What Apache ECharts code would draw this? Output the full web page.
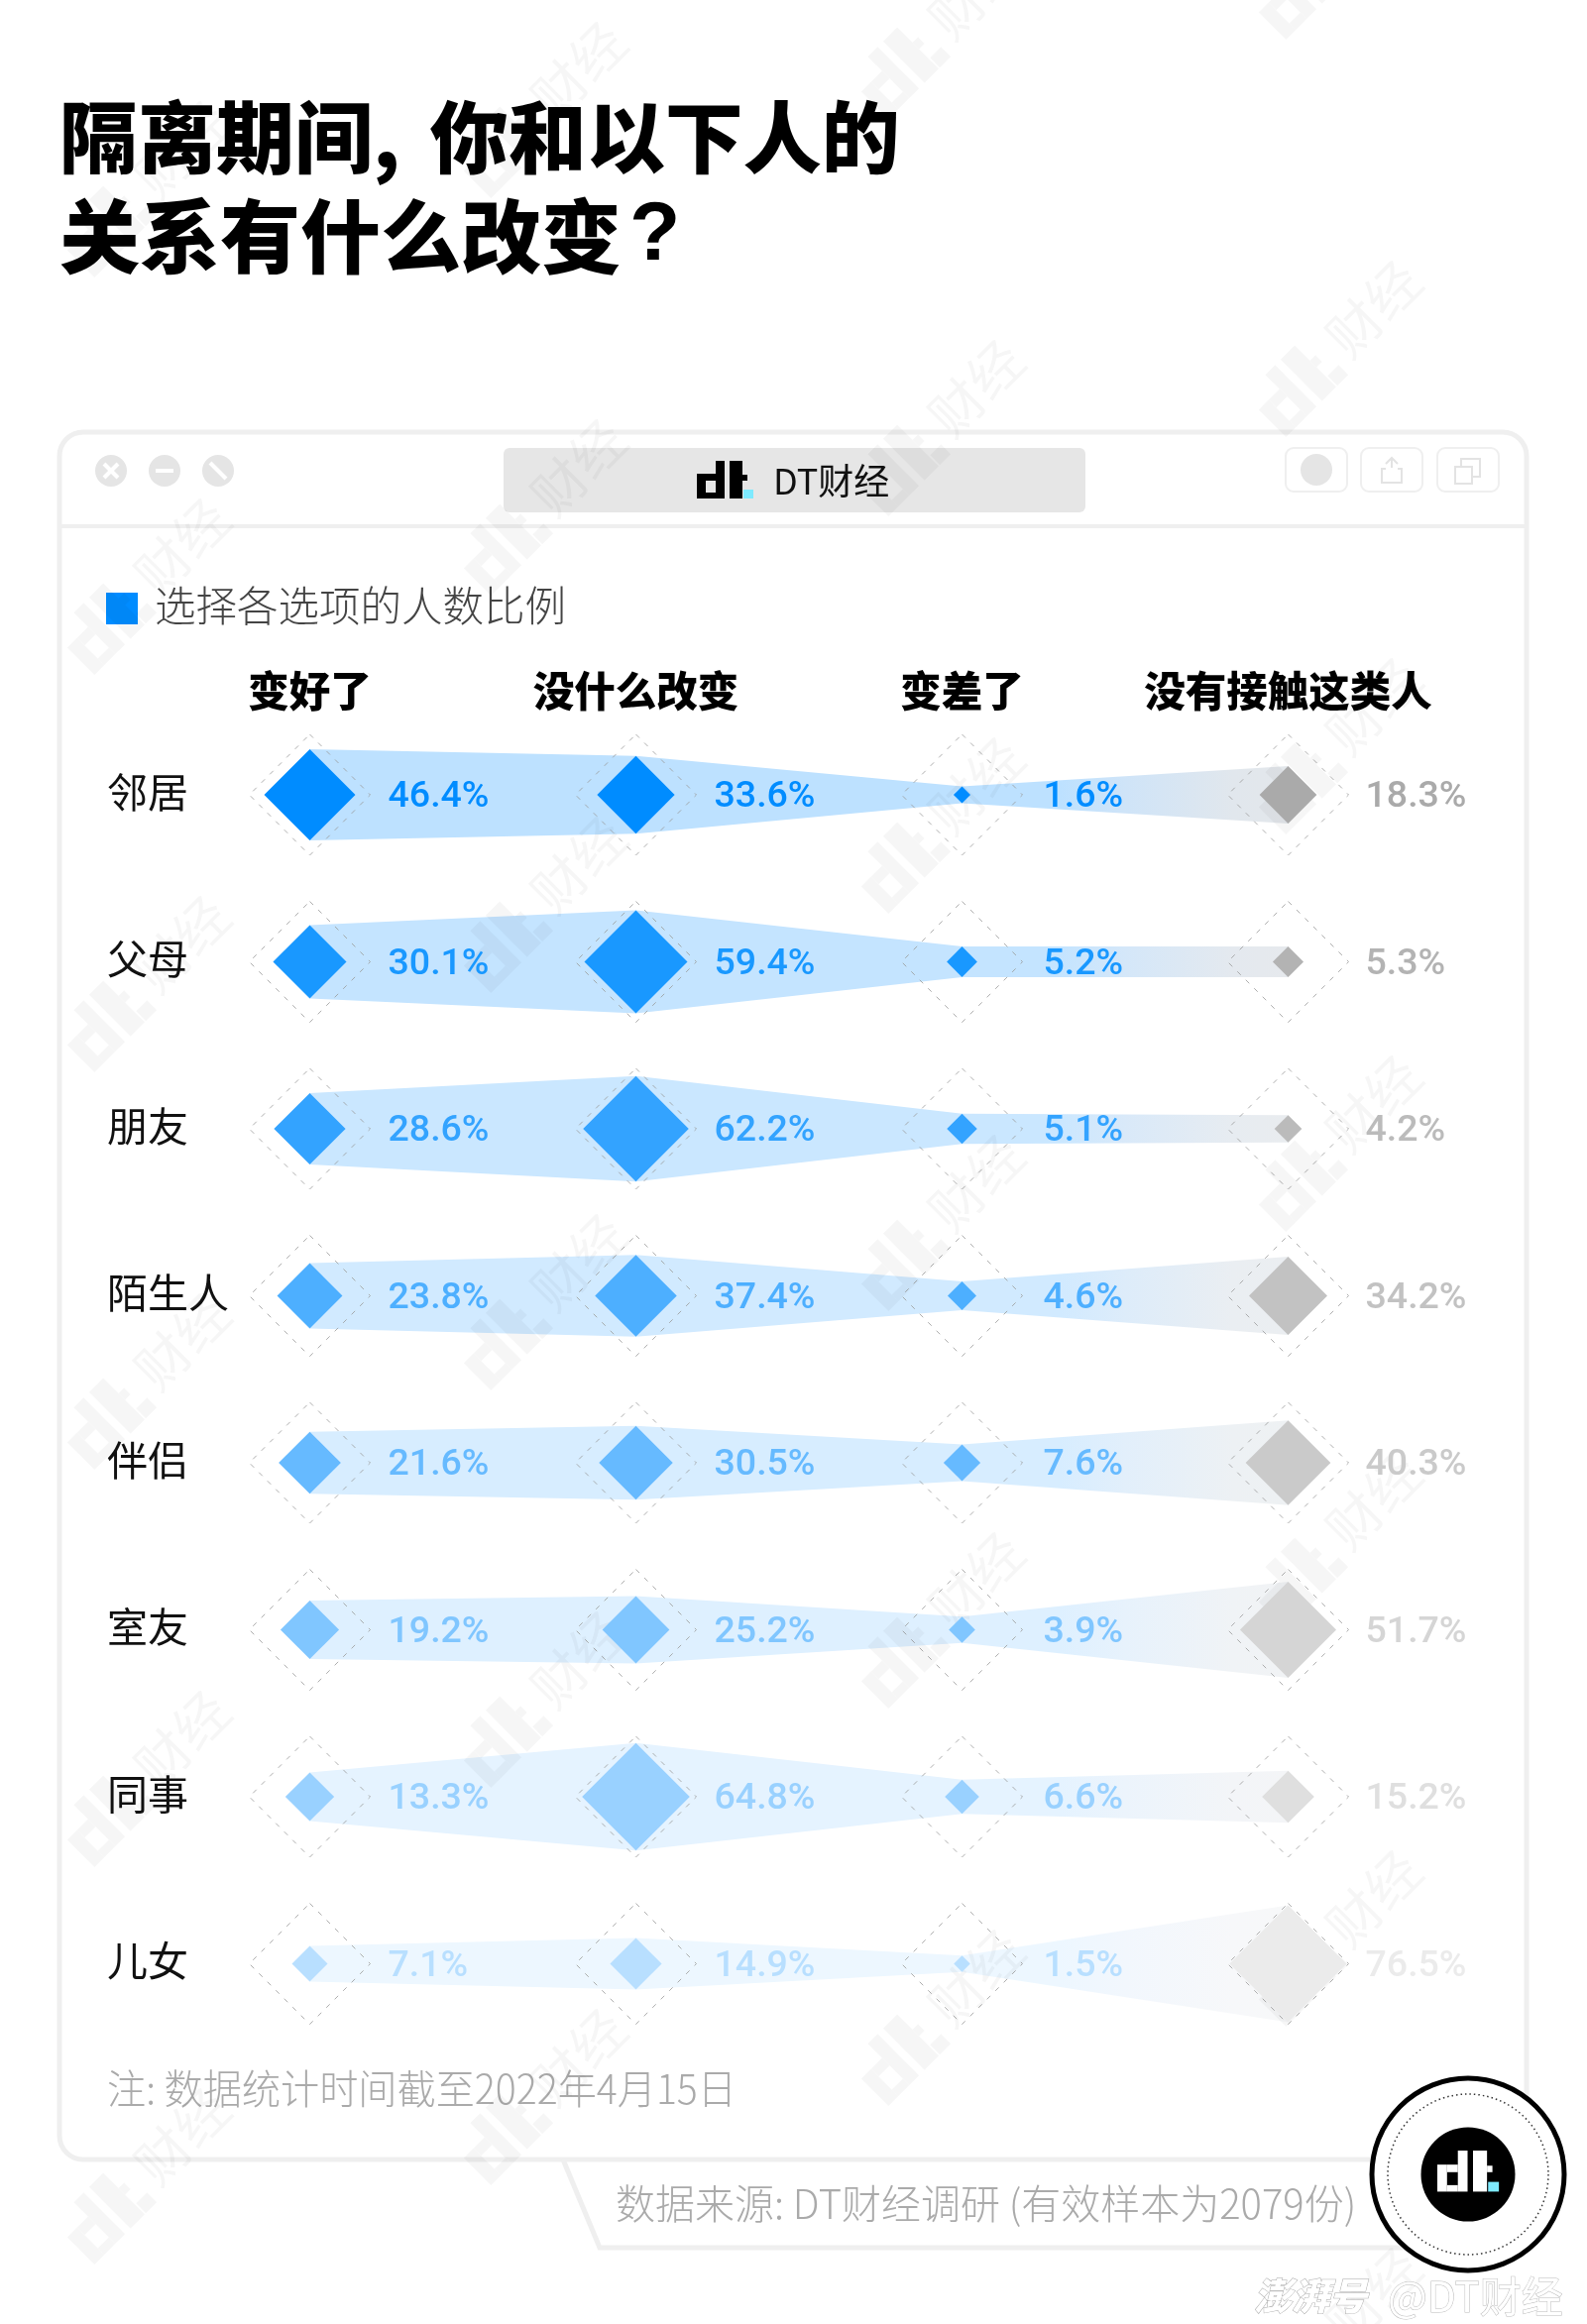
<!DOCTYPE html>
<html>
<head>
<meta charset="utf-8">
<style>html,body{margin:0;padding:0;background:#fff}#c{width:1601px;height:2345px}</style>
<script src="https://cdn.jsdelivr.net/npm/echarts@6/dist/echarts.min.js"></script>
</head>
<body>
<div id="c"></div>
<script>
var titleText = '{a|隔离期间, }{c|你和以下人的}\n{b|关系有什么改变}{q|?}';
var legendText = '选择各选项的人数比例';
var noteText = '注: 数据统计时间截至2022年4月15日';
var sourceText = '数据来源: DT财经调研 (有效样本为2079份)';
var brandText = 'DT财经';
var columns = ['变好了', '没什么改变', '变差了', '没有接触这类人'];
var relations = ['邻居', '父母', '朋友', '陌生人', '伴侣', '室友', '同事', '儿女'];
var better = [46.4, 30.1, 28.6, 23.8, 21.6, 19.2, 13.3, 7.1];
var same = [33.6, 59.4, 62.2, 37.4, 30.5, 25.2, 64.8, 14.9];
var worse = [1.6, 5.2, 5.1, 4.6, 7.6, 3.9, 6.6, 1.5];
var none = [18.3, 5.3, 4.2, 34.2, 40.3, 51.7, 15.2, 76.5];
var seriesValues = [better, same, worse, none];

var rowOpacity = [1, .9, .8, .7, .6, .5, .4, .28];
var grayOpacity = [1, .9, .8, .72, .62, .5, .38, .24];
var FONT = '"Noto Sans CJK SC","Noto Sans",sans-serif';
var K = 6.75;
function halfSize(v) { return K * Math.sqrt(v); }
function solid(rgb, a) {
  return 'rgb(' + rgb.map(function (c) { return Math.round(c * a + 255 * (1 - a)); }).join(',') + ')';
}
var BLUE = [0, 140, 255], GRAY = [170, 170, 170];
var BAND = [189, 225, 255];

var chart = echarts.init(document.getElementById('c'), null, { width: 1601, height: 2345 });

function bandItem(params, api) {
  var r = api.value(0), op = rowOpacity[r], kids = [], pts = [];
  for (var i = 0; i < 4; i++) {
    var p = api.coord([i, r]);
    pts.push({ x: p[0], y: p[1], h: halfSize(api.value(i + 1)) });
  }
  for (var j = 0; j < 3; j++) {
    var s = pts[j], e = pts[j + 1];
    var fill = j < 2 ? solid(BAND, op) : new echarts.graphic.LinearGradient(0, 0, 1, 0, [
      { offset: 0, color: solid(BAND, op) },
      { offset: 0.3, color: solid(BAND, op) },
      { offset: 0.5, color: solid([207, 228, 248], op) },
      { offset: 0.83, color: solid([225, 231, 237], op) },
      { offset: 1, color: solid([227, 231, 235], op) }
    ]);
    kids.push({
      type: 'polygon',
      shape: { points: [[s.x, s.y - s.h], [e.x, e.y - e.h], [e.x, e.y + e.h], [s.x, s.y + s.h]] },
      style: { fill: fill }
    });
  }
  return { type: 'group', children: kids };
}

var labelOffset = [79, 79, 82, 78];
var series = [{
  type: 'custom', name: 'bands', z: 1, silent: true, clip: false,
  renderItem: bandItem,
  encode: { x: -1, y: 0 },
  data: relations.map(function (n, r) { return [r, better[r], same[r], worse[r], none[r]]; })
}, {
  type: 'scatter', name: 'frames', z: 2, silent: true, symbol: 'diamond', symbolSize: 122,
  itemStyle: { color: 'rgba(0,0,0,0)', borderColor: '#999', borderWidth: 1, borderType: [5, 7] },
  data: (function () {
    var d = [];
    relations.forEach(function (n, r) { columns.forEach(function (c, i) { d.push([i, r]); }); });
    return d;
  })()
}];
seriesValues.forEach(function (vals, c) {
  var base = c < 3 ? BLUE : GRAY, ops = c < 3 ? rowOpacity : grayOpacity;
  series.push({
    type: 'scatter', name: columns[c], z: 3, silent: true, symbol: 'diamond',
    symbolSize: function (v) { return 2 * halfSize(v[2]); },
    data: vals.map(function (v, r) {
      return {
        value: [c, r, v],
        itemStyle: { color: solid(base, ops[r]), opacity: 1 },
        label: { color: solid(base, ops[r]) }
      };
    }),
    label: {
      show: true, position: 'inside', align: 'left', verticalAlign: 'middle',
      offset: [labelOffset[c], 3], fontFamily: 'Roboto,"Noto Sans",sans-serif', fontSize: 37.5, fontWeight: 500,
      formatter: function (p) { return p.value[2] + '%'; }
    }
  });
});

/* ---- decoration ---- */
var g = [];
var LINE = '#efefef';
function rect(x, y, w, h, fill, r, z, stroke, lw) {
  g.push({ type: 'rect', z: z || 0, shape: { x: x, y: y, width: w, height: h, r: r || 0 },
    style: { fill: fill, stroke: stroke || null, lineWidth: lw || 0 } });
}
function line(x1, y1, x2, y2, col, lw, z) {
  g.push({ type: 'line', z: z || 0, shape: { x1: x1, y1: y1, x2: x2, y2: y2 }, style: { stroke: col, lineWidth: lw } });
}
function circle(x, y, r, fill, z, stroke, lw, dash) {
  g.push({ type: 'circle', z: z || 0, shape: { cx: x, cy: y, r: r },
    style: { fill: fill, stroke: stroke || null, lineWidth: lw || 0, lineDash: dash || null } });
}
function text(x, y, t, size, col, weight, z, extra, sx) {
  var s = { x: 0, y: 0, text: t, fontSize: size, fontFamily: FONT, fontWeight: weight || 400, fill: col, textVerticalAlign: 'middle', textAlign: 'left' };
  if (extra) for (var k in extra) s[k] = extra[k];
  g.push({ type: 'text', z: z || 0, x: x, y: y, scaleX: sx || 1, style: s });
}
var logoParts = [[0,13,9,25],[9,13,10,7],[9,32,10,6],[19,0,9,38],[33,0,13,38],[46,14,5,6]];
function logo(x, y, s, col, z) {
  logoParts.forEach(function (p) { rect(x + p[0]*s, y + p[1]*s, p[2]*s, p[3]*s, col, 0, z); });
  rect(x + 47*s, y + 29*s, 10*s, 9*s, '#7eeaff', 0, z);
}

// window frame
rect(60, 436, 1480, 1743, '#fff', 24, 0, LINE, 5);
line(60, 531, 1540, 531, LINE, 4, 0);
[112, 166, 220].forEach(function (x) { circle(x, 475, 16, '#e5e5e5', 0); });
line(105, 468, 119, 482, '#fff', 4, 0); line(119, 468, 105, 482, '#fff', 4, 0);
line(157, 475, 175, 475, '#fff', 4, 0);
line(212, 467, 228, 483, '#fff', 4, 0);
rect(508, 452, 587, 65, '#e6e6e6', 6, 0);
logo(703, 465, 1, '#000', 1);
text(780, 485, brandText, 36, '#111', 400, 1);
[1297, 1373, 1450].forEach(function (x) { rect(x, 452, 62, 44, '#fff', 8, 0, '#efefef', 2); });
circle(1328, 474, 16, '#e5e5e5', 0);
line(1404, 472, 1404, 462, '#e3e3e3', 2, 0);
g.push({ type: 'polyline', z: 0, shape: { points: [[1398,468],[1404,462],[1410,468]] }, style: { stroke: '#e3e3e3', lineWidth: 2, fill: null } });
g.push({ type: 'polyline', z: 0, shape: { points: [[1398,473],[1394,473],[1394,487],[1414,487],[1414,473],[1410,473]] }, style: { stroke: '#e3e3e3', lineWidth: 2, fill: null } });
rect(1468, 471, 17, 17, 'none', 0, 0, '#e3e3e3', 2);
g.push({ type: 'polyline', z: 0, shape: { points: [[1474,471],[1474,463],[1493,463],[1493,481],[1485,481]] }, style: { stroke: '#e3e3e3', lineWidth: 2, fill: null } });

// legend and notes
rect(107, 598, 32, 32, '#008cff', 0, 1);
text(156, 611, legendText, 41.5, '#444', 300, 1);
text(108, 2107, noteText, 41, '#aaa', 300, 1, null, 0.955);

// source tab
g.push({ type: 'polyline', z: 0, shape: { points: [[568,2179],[605,2268],[1420,2268]] }, style: { stroke: LINE, lineWidth: 5, fill: null } });
text(621, 2223, sourceText, 41, '#aaa', 300, 1, null, 0.975);

// badge
circle(1481, 2194, 97, '#fff', 5, '#000', 5);
circle(1481, 2194, 81, 'none', 5, '#333', 1.5, [1.5, 3]);
circle(1481, 2194, 47.5, '#000', 5);
logo(1450, 2170, 1.09, '#fff', 6);

// publisher mark
text(1265, 2317, '澎湃号', 38, '#fff', 900, 6, { stroke: '#aaa', lineWidth: 1, fontStyle: 'italic' });
text(1400, 2317, '@DT财经', 42, '#fff', 400, 6, { stroke: '#bbb', lineWidth: 1 });

// repeated brand watermark
var MARK = 'rgba(0,0,0,.035)', MZ = 2.5, MS = 1.56;
var markX = [1353, 952, 551, 151], markY0 = [-57, 23, 103, 183];
markX.forEach(function (x, i) {
  for (var j = 0; j < 7; j++) {
    var kids = logoParts.concat([[47,29,10,9]]).map(function (p) {
      return { type: 'rect', z: MZ, silent: true,
        shape: { x: -108 + p[0]*MS, y: -30 + p[1]*MS, width: p[2]*MS, height: p[3]*MS },
        style: { fill: MARK } };
    });
    kids.push({ type: 'text', z: MZ, silent: true, style: { x: -8, y: 0, text: '财经', fontSize: 54, fontFamily: FONT, fill: MARK, textVerticalAlign: 'middle' } });
    g.push({ type: 'group', x: x, y: markY0[i] + 401 * j, rotation: Math.PI / 4, silent: true, children: kids });
  }
});

chart.setOption({
  backgroundColor: '#fff',
  animation: false,
  title: { text: titleText, left: 60, top: 88.5, padding: 0,
    textStyle: { fontFamily: FONT, fontSize: 81, fontWeight: 900, color: '#000', lineHeight: 100,
      rich: {
        a: { fontFamily: FONT, fontSize: 79, fontWeight: 900, color: '#000', lineHeight: 100 },
        c: { fontFamily: FONT, fontSize: 79, fontWeight: 900, color: '#000', lineHeight: 100, padding: [0, 0, 0, 12] },
        b: { fontFamily: FONT, fontSize: 81, fontWeight: 900, color: '#000', lineHeight: 100 },
        q: { fontFamily: '"Liberation Sans",sans-serif', fontSize: 84, fontWeight: 700, color: '#000', lineHeight: 100, padding: [0, 0, 0, 8] }
      } } },
  grid: { left: 148, top: 717.75, width: 1316, height: 1348, containLabel: false, outerBoundsMode: 'none' },
  xAxis: { type: 'category', position: 'top', data: columns,
    axisLine: { show: false }, axisTick: { show: false }, splitLine: { show: false },
    axisLabel: { interval: 0, margin: 0, fontFamily: FONT, fontSize: 41.5, fontWeight: 900, color: '#000' } },
  yAxis: { type: 'category', inverse: true, data: relations,
    axisLine: { show: false }, axisTick: { show: false }, splitLine: { show: false },
    axisLabel: { interval: 0, align: 'left', margin: 40, verticalAlign: 'bottom', lineHeight: 6, fontFamily: FONT, fontSize: 41, color: '#111' } },
  graphic: { elements: g },
  series: series
});
</script>
</body>
</html>
